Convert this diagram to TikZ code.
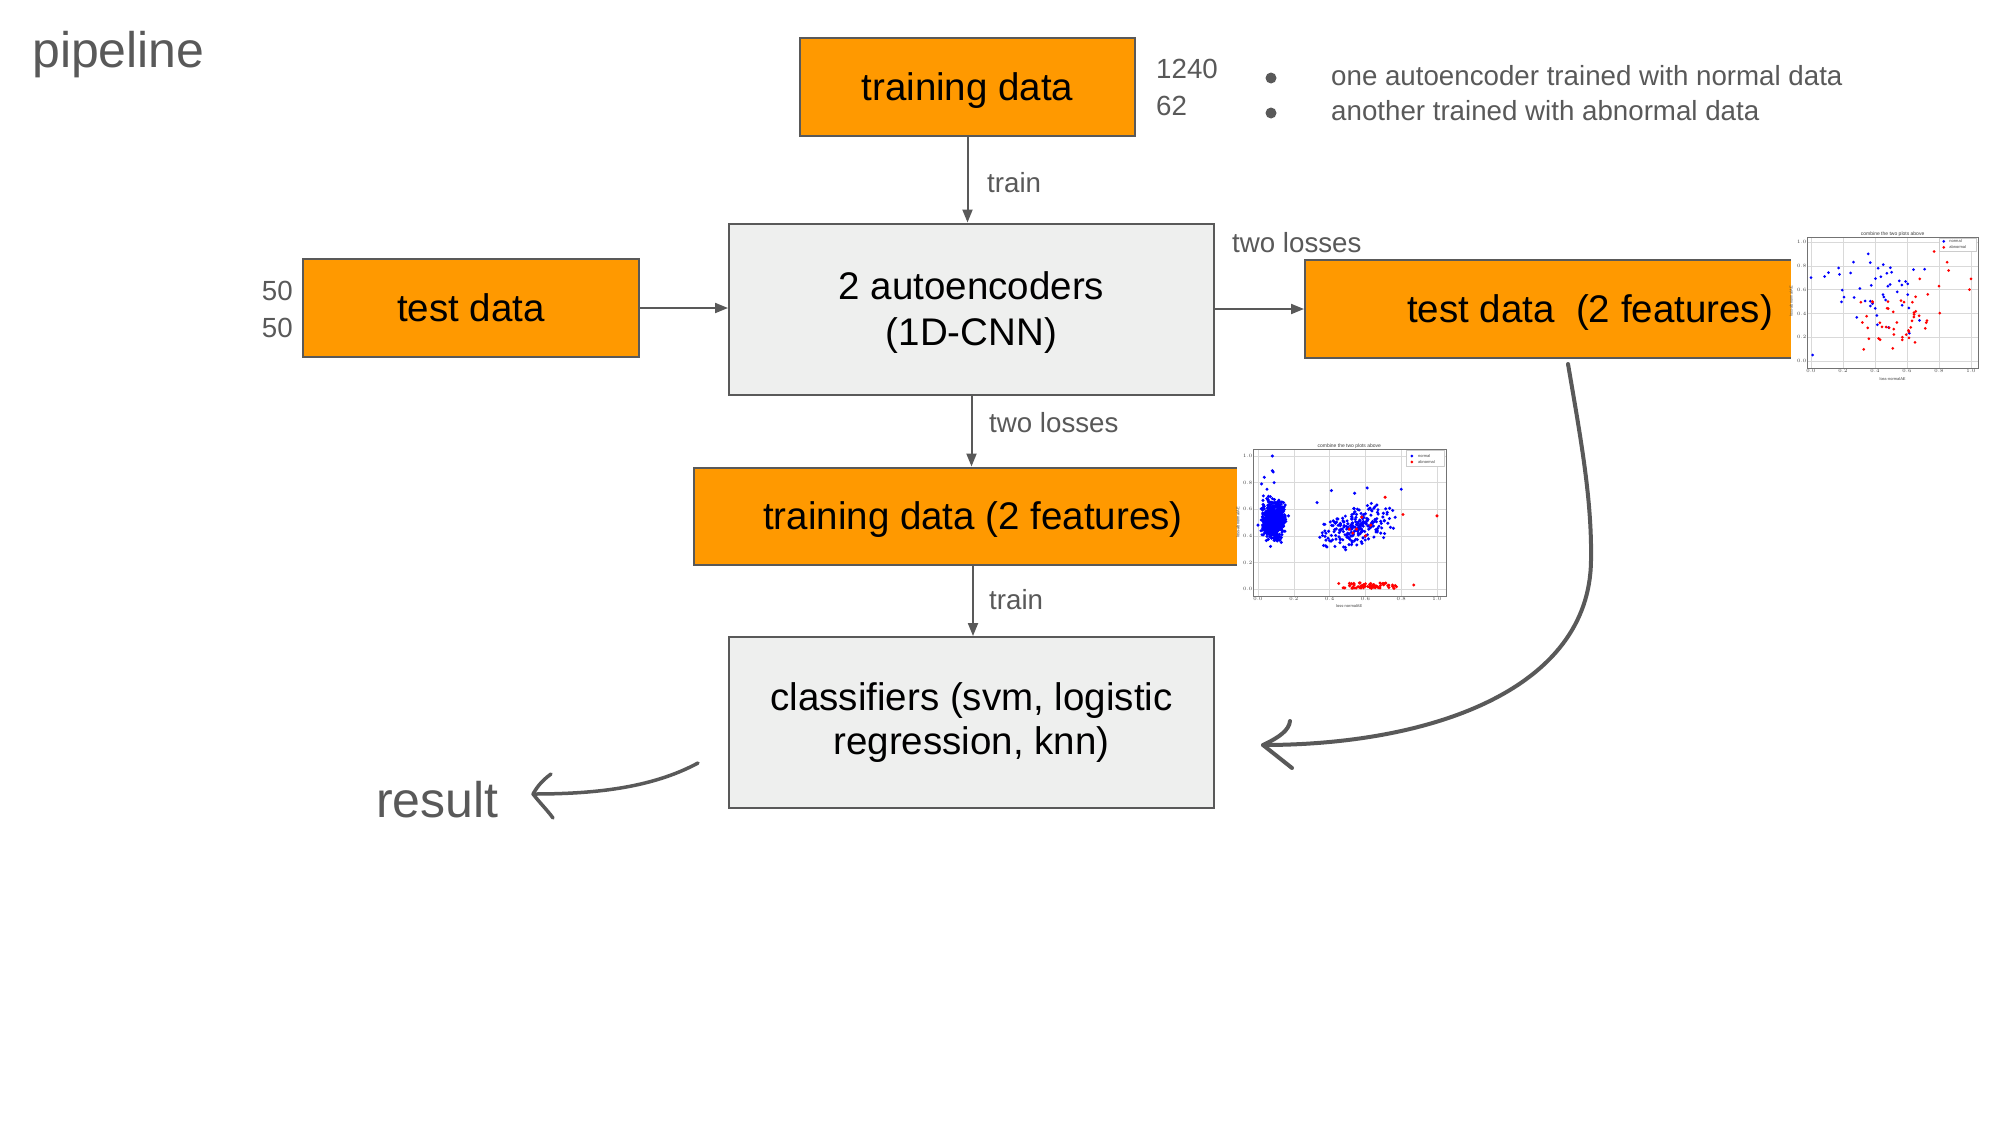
\documentclass[tikz,border=0pt]{standalone}
\usepackage{fontspec}
\setmainfont{Liberation Sans}
\usetikzlibrary{arrows.meta}
\definecolor{lineg}{HTML}{595959}
\definecolor{orng}{HTML}{FF9900}
\definecolor{boxg}{HTML}{EEEFEE}
\definecolor{txtg}{HTML}{595959}
\definecolor{ptblue}{HTML}{0000FF}
\definecolor{ptred}{HTML}{FF0000}
\tikzset{
  obox/.style={draw=lineg, line width=2pt, fill=orng, text=black, inner sep=0pt, align=center,
    text depth=0pt, font=\fontsize{38.5}{47}\selectfont},
  gbox/.style={draw=lineg, line width=2pt, fill=boxg, text=black, inner sep=0pt, align=center,
    font=\fontsize{38.5}{46}\selectfont},
  lab/.style={text=txtg, inner sep=0pt, font=\fontsize{27.7}{33}\selectfont},
  conn/.style={draw=lineg, line width=2pt, -{Triangle[length=13pt,width=10pt]}},
  hand/.style={draw=lineg, line width=4pt, line cap=round, line join=round},
  tiny/.style={inner sep=0.6pt, text=black!75, font=\fontsize{4}{5}\selectfont},
  grd/.style={draw=black!15, line width=0.4pt},
  frm/.style={draw=black!55, line width=0.7pt},
}
\begin{document}
\begin{tikzpicture}[x=1pt,y=-1pt]
\useasboundingbox (0,0) rectangle (2000,1125);
\fill[white] (0,0) rectangle (2000,1125);

% title
\node[anchor=base west, text=txtg, inner sep=0pt, font=\fontsize{50}{56}\selectfont] (title) at (32,67) {pipeline};

% boxes
\node[obox, minimum width=335pt, minimum height=98pt] (td) at (967.5,87) {training data};
\node[gbox, text depth=0pt, minimum width=485pt, minimum height=171pt] (ae) at (971.5,309) {2 autoencoders\\(1D-CNN)};
\node[obox, minimum width=336pt, minimum height=98pt] (test) at (471,308) {test data};
\node[obox, minimum width=570pt, minimum height=98pt] (t2f) at (1590,309) {test data\ \ (2 features)};
\node[obox, minimum width=558pt, minimum height=97pt] (tr2f) at (973,516) {training data (2 features)};
\node[gbox, minimum width=485pt, minimum height=171pt] (clf) at (971.5,722.5) {\raisebox{-1.5pt}{classifiers (svm, logistic}\\regression, knn)};

% connectors
\draw[conn] (td.south) -- (td.south |- ae.north);
\draw[conn] (test.east) -- (test.east -| ae.west);
\draw[conn] (ae.east) -- (ae.east -| t2f.west);
\draw[conn] (ae.south) -- (ae.south |- tr2f.north);
\draw[conn] (tr2f.south) -- (tr2f.south |- clf.north);

% labels
\node[lab, anchor=base west] (ltrain1) at (987,192) {train};
\node[lab, anchor=base west] (lloss1) at (1232,252) {two losses};
\node[lab, anchor=base west] (lloss2) at (989,432) {two losses};
\node[lab, anchor=base west] (ltrain2) at (989,609) {train};
\node[lab, anchor=base east] (n50a) at (293,300) {50};
\node[lab, anchor=base east] (n50b) at (293,337) {50};
\node[lab, anchor=base west] (n1240) at (1156,78) {1240};
\node[lab, anchor=base west] (n62) at (1156,115) {62};
\fill[lineg] (1271,78) circle[radius=5.5pt];
\fill[lineg] (1271,113) circle[radius=5.5pt];
\node[lab, anchor=base west] (b1) at (1331,85) {one autoencoder trained with normal data};
\node[lab, anchor=base west] (b2) at (1331,120) {another trained with abnormal data};

% result
\node[anchor=base west, text=txtg, inner sep=0pt, font=\fontsize{50}{56}\selectfont] (res) at (376,817) {result};
\coordinate (rs) at (698,763);
\coordinate (rt) at (533,794);
\draw[hand, line width=3.5pt] (rs) .. controls (650,789) and (590,794) .. (rt);
\draw[hand, line width=3.5pt] (551,774) .. controls (540,782) and (536,789) .. (rt) .. controls (540,803) and (548,811) .. (553,818);

% big curved arrow
\coordinate (bs) at (1568,364);
\coordinate (bm) at (1591,560);
\coordinate (bt) at (1263,745);
\draw[hand] (bs) .. controls (1581,440) and (1592,500) .. (bm) .. controls (1590,690) and (1430,745) .. (bt);
\draw[hand] (1290,721) .. controls (1289,730) and (1280,737) .. (bt) -- (1292,768);

% ---------- top-right scatter (test) ----------
\fill[white] (1791,226) rectangle (2000,393);
\begin{scope}[shift={(1811,361)}, x=160pt, y=119pt]
  \foreach \g in {0,0.2,0.4,0.6,0.8,1.0}{
    \draw[grd] (\g,-0.059) -- (\g,1.042);
    \draw[grd] (-0.025,\g) -- (1.044,\g);
    \node[tiny, anchor=north] at (\g,-0.059) {\pgfmathprintnumber[fixed,precision=1,fixed zerofill]{\g}};
    \node[tiny, anchor=east] at (-0.025,\g) {\pgfmathprintnumber[fixed,precision=1,fixed zerofill]{\g}};
  }
  \draw[frm] (-0.025,-0.059) rectangle (1.044,1.042);
  \node[tiny, anchor=south, font=\fontsize{5}{6}\selectfont] at (0.51,1.042) {combine the two plots above};
  \node[tiny, anchor=north] at (0.51,-0.13) {loss-normalAE};
  \node[tiny, anchor=south, rotate=90] at (-0.11,0.5) {loss-abnormalAE};
  \pgfmathsetseed{11}
  \foreach \i in {1,...,46}{
    \pgfmathsetmacro\u{0.4+0.2*(rand+rand)}
    \pgfmathsetmacro\v{0.56+0.2*(rand+rand)}
    \fill[ptblue] (\u,\v) circle[radius=1.5pt];
  }
  \foreach \p in {(0.0,0.70),(0.01,0.05),(0.085,0.71),(0.82,1.0)}{
    \fill[ptblue] \p circle[radius=1.5pt];
  }
  \foreach \i in {1,...,44}{
    \pgfmathsetmacro\u{0.55+0.14*(rand+rand)}
    \pgfmathsetmacro\v{0.32+0.15*(rand+rand)}
    \fill[ptred] (\u,\v) circle[radius=1.5pt];
  }
  \foreach \p in {(0.77,0.92),(0.85,0.83),(0.86,0.76),(1.0,0.69),(0.99,0.60),(0.68,0.69),(0.80,0.63),(0.73,0.56)}{
    \fill[ptred] \p circle[radius=1.5pt];
  }
  \draw[draw=black!20, fill=white, line width=0.4pt] (0.80,0.92) rectangle (1.035,1.035);
  \fill[ptblue] (0.83,1.005) circle[radius=1.5pt];
  \fill[ptred] (0.83,0.955) circle[radius=1.5pt];
  \node[tiny, anchor=west] at (0.86,1.005) {normal};
  \node[tiny, anchor=west] at (0.86,0.955) {abnormal};
\end{scope}

% ---------- lower scatter (training) ----------
\fill[white] (1237,437) rectangle (1462,613);
\begin{scope}[shift={(1258,589)}, x=179pt, y=133pt]
  \foreach \g in {0,0.2,0.4,0.6,0.8,1.0}{
    \draw[grd] (\g,-0.053) -- (\g,1.053);
    \draw[grd] (-0.028,\g) -- (1.05,\g);
    \node[tiny, anchor=north] at (\g,-0.053) {\pgfmathprintnumber[fixed,precision=1,fixed zerofill]{\g}};
    \node[tiny, anchor=east] at (-0.028,\g) {\pgfmathprintnumber[fixed,precision=1,fixed zerofill]{\g}};
  }
  \draw[frm] (-0.028,-0.053) rectangle (1.05,1.053);
  \node[tiny, anchor=south, font=\fontsize{5}{6}\selectfont] at (0.51,1.053) {combine the two plots above};
  \node[tiny, anchor=north] at (0.51,-0.11) {loss-normalAE};
  \node[tiny, anchor=south, rotate=90] at (-0.1,0.5) {loss-abnormalAE};
  \pgfmathsetseed{5}
  \foreach \i in {1,...,750}{
    \pgfmathsetmacro\u{0.085+0.036*(rand+rand)}
    \pgfmathsetmacro\v{0.52+0.065*(rand+rand+rand)}
    \fill[ptblue] (\u,\v) circle[radius=1.7pt];
  }
  \foreach \p in {(0.08,1.0),(0.08,0.89),(0.085,0.88),(0.035,0.84),(0.02,0.79),(0.07,0.32),(0.13,0.35),(0.17,0.55),(0.0,0.48),(0.05,0.75),(0.09,0.80),(0.03,0.70)}{
    \fill[ptblue] \p circle[radius=1.7pt];
  }
  \foreach \i in {1,...,230}{
    \pgfmathsetmacro\u{0.55+0.115*(rand+rand)}
    \pgfmathsetmacro\v{0.25+0.4*\u+0.08*(rand+rand)}
    \fill[ptblue] (\u,\v) circle[radius=1.7pt];
  }
  \foreach \p in {(0.33,0.65),(0.41,0.74),(0.80,0.75),(0.43,0.32),(0.61,0.76),(0.54,0.72)}{
    \fill[ptblue] \p circle[radius=1.7pt];
  }
  \foreach \i in {1,...,65}{
    \pgfmathsetmacro\u{0.62+0.09*(rand+rand)}
    \pgfmathsetmacro\v{0.025+0.022*rand}
    \fill[ptred] (\u,\v) circle[radius=1.7pt];
  }
  \foreach \p in {(0.51,0.45),(0.53,0.42),(0.55,0.45),(0.58,0.54),(0.6,0.40),(0.63,0.48),(0.71,0.69),(0.81,0.56),(1.0,0.55),(0.87,0.03)}{
    \fill[ptred] \p circle[radius=1.7pt];
  }
  \draw[draw=black!20, fill=white, line width=0.4pt] (0.83,0.92) rectangle (1.04,1.04);
  \fill[ptblue] (0.86,1.0) circle[radius=1.5pt];
  \fill[ptred] (0.86,0.955) circle[radius=1.5pt];
  \node[tiny, anchor=west] at (0.89,1.0) {normal};
  \node[tiny, anchor=west] at (0.89,0.955) {abnormal};
\end{scope}
\end{tikzpicture}
\end{document}
